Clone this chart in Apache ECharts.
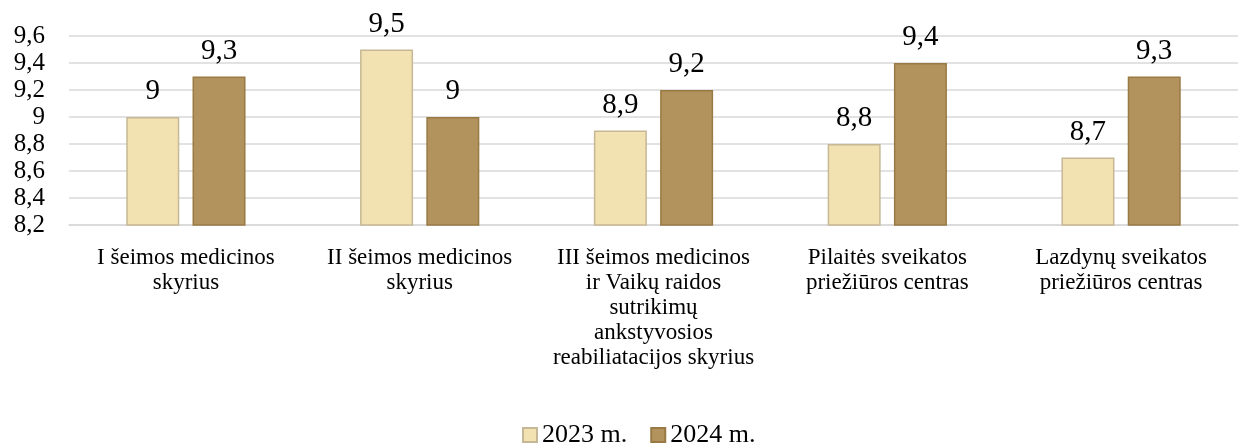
<!DOCTYPE html>
<html style="height: 100%">

<head>
    <meta charset="utf-8">
    <title>index</title>
    <style>
        html, body { margin: 0; padding: 0; background: #fff; }
        #container {
            width: 1240px;
            height: 446px;
        }
    </style>
</head>

<body>
    <div id="container"></div>
</body>
<script src="https://cdn.jsdelivr.net/npm/echarts@6/dist/echarts.min.js"></script>
<script type="text/javascript">
    var dom = document.getElementById("container");
    var myChart = echarts.init(dom);

    // data
    var categories = [
        "I šeimos medicinos\nskyrius",
        "II šeimos medicinos\nskyrius",
        "III šeimos medicinos\nir Vaikų raidos\nsutrikimų\nankstyvosios\nreabiliatacijos skyrius",
        "Pilaitės sveikatos\npriežiūros centras",
        "Lazdynų sveikatos\npriežiūros centras"
    ];
    var values2023 = [9, 9.5, 8.9, 8.8, 8.7];
    var values2024 = [9.3, 9, 9.2, 9.4, 9.3];
    var seriesNames = ["2023 m.", "2024 m."];

    var font = "'Liberation Serif', 'Times New Roman', serif";

    // 9.5 -> "9,5", 9 -> "9"
    function fmt(v) {
        var r = Math.round(v * 10) / 10;
        return String(r).replace(".", ",");
    }

    var option = {
        backgroundColor: "#fff",
        textStyle: { fontFamily: font },
        animation: false,
        legend: {
            top: 417,
            left: 517,
            itemWidth: 14,
            itemHeight: 14,
            itemGap: 23,
            icon: "rect",
            textStyle: { fontFamily: font, fontSize: 26, color: "#000" },
            data: seriesNames
        },
        grid: {
            left: 69,
            right: 2,
            top: 36,
            bottom: 221
        },
        xAxis: {
            type: "category",
            data: categories,
            axisLine: { show: true, lineStyle: { color: "#d9d9d9", width: 1.5 } },
            axisTick: { show: false },
            axisLabel: {
                fontFamily: font,
                fontSize: 23,
                color: "#000",
                lineHeight: 25,
                margin: 20,
                interval: 0
            }
        },
        yAxis: {
            type: "value",
            min: 8.2,
            max: 9.6,
            interval: 0.2,
            axisLine: { show: false },
            axisTick: { show: false },
            splitLine: { lineStyle: { color: "#d9d9d9", width: 1.5 } },
            axisLabel: {
                fontFamily: font,
                fontSize: 25,
                color: "#000",
                margin: 24,
                formatter: fmt
            }
        },
        series: [{
            name: seriesNames[0],
            type: "bar",
            data: values2023,
            barWidth: 53,
            barGap: "25%",
            itemStyle: { color: "#f2e1b1", borderColor: "#c6b896", borderWidth: 1.5 },
            label: {
                show: true,
                position: "top",
                distance: 11,
                fontFamily: font,
                fontSize: 29,
                color: "#000",
                formatter: function (p) { return fmt(p.value); }
            }
        }, {
            name: seriesNames[1],
            type: "bar",
            data: values2024,
            barWidth: 53,
            itemStyle: { color: "#b3935d", borderColor: "#997a44", borderWidth: 1.5 },
            label: {
                show: true,
                position: "top",
                distance: 11,
                fontFamily: font,
                fontSize: 29,
                color: "#000",
                formatter: function (p) { return fmt(p.value); }
            }
        }]
    };
    if (option && typeof option === "object") {
        myChart.setOption(option, true);
    };
</script>

</html>
